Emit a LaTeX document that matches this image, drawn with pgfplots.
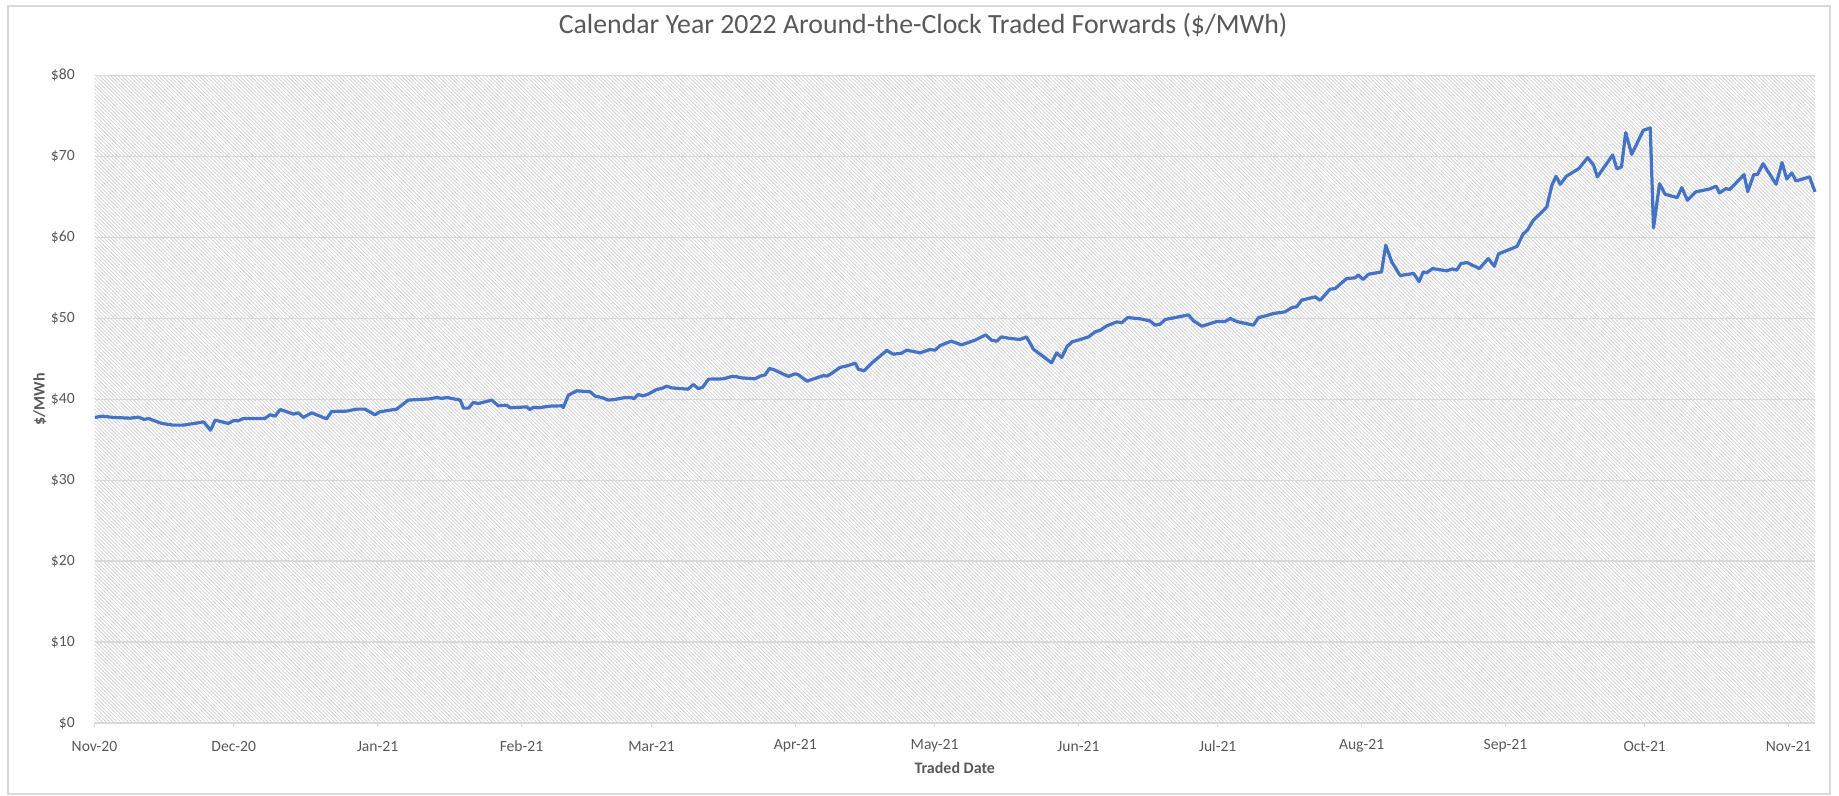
\documentclass[border=0pt]{standalone}
\usepackage{fontspec}
\setmainfont{Carlito}
\usepackage{pgfplots}
\pgfplotsset{compat=1.18}
\usetikzlibrary{patterns.meta}
\definecolor{lblgray}{HTML}{595959}
\definecolor{gridgray}{HTML}{D9D9D9}
\definecolor{hatchgray}{HTML}{D2D2D2}
\definecolor{bordergray}{HTML}{D9D9D9}
\definecolor{lineblue}{HTML}{4472C4}
\begin{document}
\begin{tikzpicture}
\useasboundingbox (0,0) rectangle (919.5pt,398pt);
\fill[white] (0,0) rectangle (919.5pt,398pt);
\draw[color=bordergray, line width=0.7pt] (4pt,1pt) rectangle (915pt,395pt);
\begin{axis}[
  at={(47.25pt,36.5pt)}, anchor=south west,
  scale only axis, width=860.25pt, height=323.85pt,
  xmin=0, xmax=370.7, ymin=0, ymax=80,
  axis background/.style={pattern={Lines[angle=-45,distance=1.3pt,line width=0.38pt]}, pattern color=hatchgray},
  axis line style={draw=none},
  ymajorgrids, grid style={gridgray, line width=0.6pt},
  xtick={0,30,61,92,120,151,181,212,242,273,304,334,365},
  xticklabels={Nov-20,Dec-20,Jan-21,Feb-21,Mar-21,Apr-21,May-21,Jun-21,Jul-21,Aug-21,Sep-21,Oct-21,Nov-21},
  ytick={0,10,20,30,40,50,60,70,80},
  yticklabels={\$0,\$10,\$20,\$30,\$40,\$50,\$60,\$70,\$80},
  xtick pos=bottom, tick align=outside,
  xtick style={draw=gridgray, line width=0.6pt},
  major tick length=2.2pt,
  ytick style={draw=none},
  tick label style={font=\fontsize{7.8}{9}\selectfont, text=lblgray},
  yticklabel style={anchor=east, inner sep=0pt, xshift=-7.5pt},
  xticklabel style={anchor=center, inner sep=0pt, yshift=-9.35pt},
  xlabel={Traded Date}, ylabel={\$/MWh},
  label style={font=\fontsize{8}{9.5}\selectfont\bfseries, text=lblgray},
  xlabel style={at={(axis description cs:0.5,-0.0695)}, anchor=center, inner sep=0pt},
  ylabel style={at={(axis description cs:-0.0317,0.5)}, anchor=center, inner sep=0pt},
  title={Calendar Year 2022 Around-the-Clock Traded Forwards (\$/MWh)},
  title style={at={(axis description cs:0.4816,1.0584)}, anchor=center, inner sep=0pt, font=\fontsize{13.9}{16}\selectfont, text=lblgray},
  clip=false,
]
\addplot[lineblue, line width=1.6pt, line join=round, no markers] coordinates {
(0.1,37.74) (1.6,37.90) (4.1,37.74) (7.7,37.65) (9.5,37.78) (10.7,37.49) (11.6,37.61)
(14.5,37.00) (17.0,36.79) (19.1,36.79) (22.4,37.08) (23.5,37.20) (25.0,36.17) (26.0,37.41)
(28.8,37.00) (29.9,37.33) (31.0,37.33) (32.1,37.61) (36.7,37.61) (37.8,38.07) (38.9,37.90)
(40.0,38.72) (42.9,38.15) (43.9,38.31) (45.0,37.74) (46.8,38.31) (50.0,37.57) (51.1,38.48)
(54.3,38.52) (56.5,38.77) (58.3,38.77) (60.4,38.07) (61.5,38.44) (65.1,38.77) (67.6,39.88)
(72.3,40.04) (73.7,40.21) (74.8,40.09) (75.9,40.21) (78.8,39.88) (79.5,38.89) (80.6,38.89)
(81.6,39.59) (82.7,39.46) (85.6,39.88) (87.0,39.18) (88.8,39.26) (89.5,38.93) (93.1,39.05)
(93.8,38.72) (94.6,39.01) (95.6,38.93) (98.2,39.14) (100.7,39.18) (101.0,38.97) (102.1,40.49)
(103.9,41.03) (106.8,40.91) (107.9,40.37) (109.3,40.20) (110.7,39.88) (112.1,39.96) (114.3,40.20)
(115.7,40.20) (116.2,40.04) (117.1,40.57) (118.2,40.41) (119.3,40.62) (121.1,41.19) (122.2,41.32)
(123.3,41.60) (124.3,41.40) (127.9,41.23) (129.0,41.81) (130.1,41.32) (131.0,41.44) (132.3,42.47)
(135.5,42.51) (137.3,42.80) (138.4,42.76) (139.4,42.63) (142.3,42.51) (143.4,42.84) (144.5,43.00)
(145.4,43.78) (146.3,43.66) (149.5,42.80) (150.9,43.13) (151.7,43.00) (153.5,42.22) (157.1,42.92)
(157.8,42.84) (158.8,43.17) (160.6,43.91) (162.1,44.11) (163.9,44.44) (164.6,43.70) (165.8,43.50)
(167.5,44.48) (170.7,46.01) (172.1,45.55) (173.9,45.68) (175.0,46.05) (177.9,45.72) (180.0,46.13)
(181.1,46.05) (182.2,46.62) (184.6,47.16) (186.8,46.71) (189.7,47.28) (192.0,47.94) (193.3,47.28)
(194.4,47.16) (195.4,47.69) (196.9,47.53) (199.4,47.37) (200.8,47.69) (202.3,46.17) (206.2,44.49)
(207.3,45.72) (208.4,45.15) (209.5,46.46) (210.6,47.08) (212.4,47.37) (214.2,47.70) (215.6,48.31)
(216.7,48.52) (218.1,49.05) (220.3,49.55) (221.3,49.43) (222.6,50.08) (225.3,49.92) (227.4,49.67)
(228.5,49.14) (229.6,49.26) (230.7,49.84) (232.5,50.04) (235.7,50.41) (236.8,49.67) (238.6,49.01)
(241.8,49.59) (243.6,49.59) (244.7,49.96) (246.1,49.59) (249.7,49.14) (250.8,50.08) (252.6,50.33)
(254.0,50.58) (256.5,50.78) (258.0,51.32) (259.0,51.40) (260.1,52.22) (263.0,52.64) (264.1,52.22)
(266.2,53.58) (267.3,53.66) (269.8,54.90) (271.6,54.98) (272.3,55.35) (273.3,54.78) (274.5,55.43)
(277.3,55.72) (278.2,59.01) (279.5,56.96) (281.3,55.27) (284.2,55.52) (285.4,54.53) (286.3,55.72)
(287.0,55.60) (288.3,56.13) (291.3,55.85) (292.6,56.09) (293.5,55.93) (294.4,56.75) (295.7,56.87)
(298.4,56.13) (300.3,57.37) (301.6,56.42) (302.5,57.94) (306.5,58.87) (307.8,60.39) (308.7,60.86)
(310.0,62.10) (311.5,62.92) (312.9,63.74) (314.0,66.42) (314.9,67.53) (315.8,66.54) (317.1,67.53)
(319.8,68.47) (321.7,69.83) (323.0,68.89) (323.8,67.45) (327.1,70.16) (328.0,68.47) (329.0,68.68)
(329.9,72.92) (331.2,70.24) (333.7,73.21) (335.2,73.50) (335.9,61.15) (337.2,66.62) (338.4,65.31)
(341.0,64.89) (342.0,66.13) (343.2,64.57) (345.0,65.60) (348.0,65.96) (349.4,66.30) (350.1,65.47)
(351.5,66.01) (352.3,65.88) (355.4,67.73) (356.2,65.64) (357.5,67.73) (358.3,67.73) (359.5,69.09)
(362.3,66.54) (363.6,69.22) (364.6,67.20) (365.7,67.94) (366.6,66.95) (369.5,67.45) (370.7,65.60)
};
\end{axis}
\end{tikzpicture}
\end{document}
